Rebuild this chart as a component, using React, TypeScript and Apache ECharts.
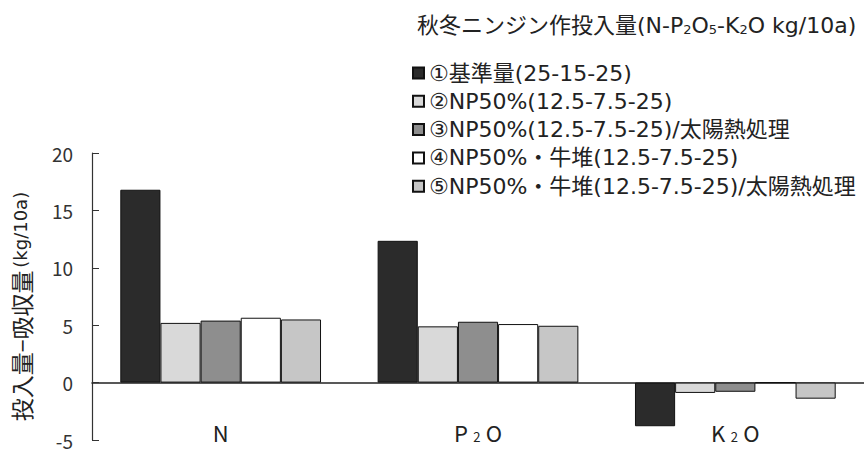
import React, { useEffect, useRef } from "react";
import * as echarts from "echarts";

const categories = ["N", "P2O", "K2O"];
const seriesNames = [
  "①基準量(25-15-25)",
  "②NP50%(12.5-7.5-25)",
  "③NP50%(12.5-7.5-25)/太陽熱処理",
  "④NP50%・牛堆(12.5-7.5-25)",
  "⑤NP50%・牛堆(12.5-7.5-25)/太陽熱処理",
];
const s1 = [16.8, 12.35, -3.8];
const s2 = [5.2, 4.9, -0.9];
const s3 = [5.4, 5.3, -0.8];
const s4 = [5.65, 5.1, 0];
const s5 = [5.5, 4.95, -1.4];
const seriesValues = [s1, s2, s3, s4, s5];
const colors = ["#2b2b2b", "#d9d9d9", "#8e8e8e", "#ffffff", "#c6c6c6"];
const yTicks = { min: -5, max: 20, interval: 5 };

const FONT = '"Noto Sans CJK JP", "Noto Sans", sans-serif';
const WFONT = '"DejaVu Sans", "Noto Sans CJK JP", sans-serif';

export default function App() {
  const ref = useRef<HTMLDivElement>(null);
  useEffect(() => {
    const chart = echarts.init(ref.current!, null, { renderer: "svg" });
    chart.setOption({
      animation: false,
      backgroundColor: "#ffffff",
      textStyle: { fontFamily: FONT, color: "#222" },
      title: {
        left: 417,
        top: 14,
        padding: 0,
        text: "秋冬ニンジン作投入量(N-P{s|2}O{s|5}-K{s|2}O kg/10a)",
        textStyle: {
          fontFamily: WFONT,
          fontSize: 22,
          fontWeight: "normal",
          color: "#222",
          rich: {
            s: { fontSize: 13, fontFamily: WFONT, color: "#222", padding: [8, 0, 0, 0] },
          },
        },
      },
      legend: {
        orient: "vertical",
        left: 412,
        top: 62,
        padding: 0,
        itemWidth: 11,
        itemHeight: 11,
        itemGap: 6.3,
        icon: "rect",
        textStyle: { fontFamily: WFONT, fontSize: 22, color: "#222" },
        data: seriesNames,
      },
      grid: {
        left: 92,
        right: 0,
        top: 153,
        bottom: 12,
        containLabel: false,
        outerBoundsMode: "none",
      },
      xAxis: {
        type: "category",
        data: categories,
        axisLine: { onZero: true, lineStyle: { color: "#222", width: 1.5 } },
        axisTick: { show: false },
        axisLabel: {
          margin: -19,
          color: "#222",
          fontFamily: FONT,
          formatter: (v: string) =>
            v.length > 1 ? `{a|${v[0]}}  {s|${v[1]}}  {a|${v[2]}}` : `{a|${v}}`,
          rich: {
            a: { fontSize: 22, fontFamily: FONT, color: "#222" },
            s: { fontSize: 13, fontFamily: FONT, color: "#222", padding: [8, 0, 0, 0] },
          },
        },
      },
      yAxis: {
        type: "value",
        min: yTicks.min,
        max: yTicks.max,
        interval: yTicks.interval,
        axisLine: { show: true, lineStyle: { color: "#333", width: 1.2 } },
        axisTick: { show: true, inside: true, length: 7, lineStyle: { color: "#333" } },
        splitLine: { show: false },
        axisLabel: { fontSize: 19, lineHeight: 18, color: "#333", margin: 19, fontFamily: FONT },
        name: "{a|投入量−吸収量} {b|(kg/10a)}",
        nameLocation: "middle",
        nameRotate: 90,
        nameGap: 60,
        nameTextStyle: {
          color: "#222",
          padding: [0, 20, 0, 0],
          rich: {
            a: { fontSize: 23, fontFamily: FONT, color: "#222" },
            b: { fontSize: 18, fontFamily: WFONT, color: "#222" },
          },
        },
      },
      series: seriesValues.map((vals, i) => ({
        name: seriesNames[i],
        type: "bar",
        data: vals,
        barGap: "0%",
        barCategoryGap: "22%",
        itemStyle: { color: colors[i], borderColor: "#111", borderWidth: 1 },
      })),
    });
    return () => chart.dispose();
  }, []);
  return (
    <div
      ref={ref}
      style={{ position: "absolute", left: 0, top: 0, width: 864, height: 452 }}
    />
  );
}
